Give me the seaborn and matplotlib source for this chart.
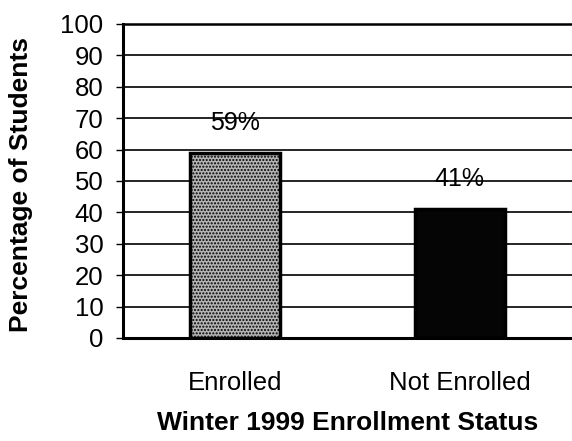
import pandas as pd
import matplotlib
matplotlib.use('Agg')
import matplotlib.pyplot as plt
import seaborn as sb

# data
status  = ['Enrolled', 'Not Enrolled']
percent = [59, 41]
labels  = ['59%', '41%']
colors  = ['#b4b4b4', '#050505']

df = pd.DataFrame({'status': status, 'percent': percent})

sb.set_style('white')
plt.rcParams['font.family'] = ['Liberation Sans', 'DejaVu Sans']
plt.rcParams['text.color'] = 'black'
plt.rcParams['axes.labelcolor'] = 'black'
plt.rcParams['xtick.color'] = 'black'
plt.rcParams['ytick.color'] = 'black'

fig = plt.figure(figsize=(5.72, 4.41), dpi=100)
ax = fig.add_axes([0.215, 0.2336, 0.785, 0.712])

# gridlines behind bars
ax.set_axisbelow(True)
ax.yaxis.grid(True, color='black', linewidth=1.2)

sb.barplot(data=df, x='status', y='percent', hue='status', palette=colors,
           legend=False, width=0.4, edgecolor='black', linewidth=2.5,
           saturation=1, ax=ax)

# stippled look for the grey bar
ax.patches[0].set_hatch('.....')

for i, (v, t) in enumerate(zip(percent, labels)):
    ax.text(i, v + 9.5, t, ha='center', va='center', fontsize=18)

ax.set_ylim(0, 100)
ax.set_xlim(-0.5, 1.5)
ax.set_yticks(range(0, 101, 10))

ax.tick_params(axis='y', which='major', left=True, length=5, width=1,
               direction='out', pad=9, labelsize=18.5)
ax.tick_params(axis='x', bottom=False, pad=20, labelsize=18.5)

ax.spines['right'].set_visible(False)
for side in ['left', 'bottom', 'top']:
    ax.spines[side].set_linewidth(2.2)
    ax.spines[side].set_color('black')
ax.spines['top'].set_linewidth(1.8)

ax.set_xlabel('Winter 1999 Enrollment Status', fontsize=19, fontweight='bold',
              labelpad=12)
ax.set_ylabel('Percentage of Students', fontsize=19, fontweight='bold')
ax.yaxis.set_label_coords(-0.2, 0.49)

fig.savefig('out.png', dpi=100)
